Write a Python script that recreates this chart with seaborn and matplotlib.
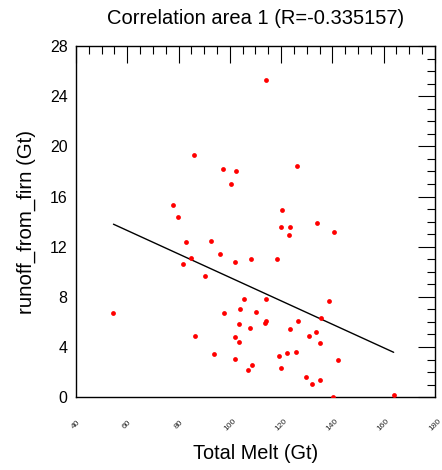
import numpy as np
import pandas as pd
import matplotlib
matplotlib.use("Agg")
import matplotlib.pyplot as plt
from matplotlib.ticker import MultipleLocator
import seaborn as sns

# Total melt (Gt) and runoff from firn (Gt), one pair per year
total_melt = [114.1, 85.9, 97.4, 102.3, 100.3, 77.7, 79.9, 126.1, 120.2, 120.1,
              123.6, 123.2, 133.9, 140.5, 82.9, 92.5, 96.0, 102.0, 108.1, 118.3,
              84.9, 81.9, 90.3, 54.6, 105.5, 114.2, 104.1, 110.3, 97.8, 103.7,
              108.0, 114.2, 113.6, 86.5, 101.9, 103.5, 93.8, 101.9, 108.8, 107.0,
              138.8, 135.7, 126.7, 123.3, 133.7, 130.7, 135.2, 119.1, 122.3, 125.7,
              142.2, 119.8, 129.8, 132.0, 135.0, 140.2, 163.9]
runoff_from_firn = [25.3, 19.35, 18.2, 18.0, 17.0, 15.35, 14.4, 18.4, 14.95, 13.6,
                    13.6, 12.95, 13.9, 13.15, 12.35, 12.45, 11.4, 10.8, 11.0, 11.0,
                    11.1, 10.65, 9.65, 6.75, 7.85, 7.85, 7.05, 6.8, 6.7, 5.85,
                    5.55, 6.1, 5.9, 4.9, 4.8, 4.4, 3.45, 3.05, 2.55, 2.2,
                    7.7, 6.35, 6.05, 5.4, 5.2, 4.85, 4.35, 3.3, 3.55, 3.6,
                    2.95, 2.35, 1.6, 1.05, 1.4, 0.05, 0.2]

title = "Correlation area 1 (R=-0.335157)"
x_label = "Total Melt (Gt)"
y_label = "runoff_from_firn (Gt)"

df = pd.DataFrame({"melt": total_melt, "runoff": runoff_from_firn})

# least-squares line across the data range
slope, intercept = np.polyfit(df["melt"], df["runoff"], 1)
xs = np.array([df["melt"].min(), df["melt"].max()])
fit = pd.DataFrame({"melt": xs, "runoff": slope * xs + intercept})

sns.set_style("white")
plt.rcParams["font.family"] = ["Liberation Sans", "DejaVu Sans"]
plt.rcParams["text.color"] = "black"
plt.rcParams["axes.labelcolor"] = "black"
plt.rcParams["xtick.color"] = "black"
plt.rcParams["ytick.color"] = "black"

fig = plt.figure(figsize=(4.42, 4.70), dpi=100)
ax = fig.add_axes([0.172, 0.155, 0.812, 0.747])

sns.scatterplot(data=df, x="melt", y="runoff", ax=ax, color="red",
                s=12, linewidth=0, zorder=3)
sns.lineplot(data=fit, x="melt", y="runoff", ax=ax, color="black",
             linewidth=1.0, zorder=2)

ax.set_xlim(40, 180)
ax.set_ylim(0, 28)
ax.xaxis.set_major_locator(MultipleLocator(20))
ax.xaxis.set_minor_locator(MultipleLocator(5))
ax.yaxis.set_major_locator(MultipleLocator(4))
ax.yaxis.set_minor_locator(MultipleLocator(1))

ax.tick_params(which="both", direction="in", top=True, right=True,
               color="black", width=0.8)
ax.tick_params(which="major", length=12)
ax.tick_params(which="minor", length=6)
ax.tick_params(axis="y", labelsize=11.5, pad=6, labelcolor="black")
ax.tick_params(axis="x", labelsize=6, pad=20, labelrotation=45)
for lbl in ax.get_xticklabels():
    lbl.set_ha("center")
    lbl.set_va("center")
    lbl.set_color("#222222")

for sp in ax.spines.values():
    sp.set_color("black")
    sp.set_linewidth(1.0)

ax.set_xlabel(x_label, fontsize=14.3, labelpad=8, color="black")
ax.set_ylabel(y_label, fontsize=14.7, labelpad=10, color="black")
ax.set_title(title, fontsize=14.5, pad=16, color="black")

fig.savefig("out.png", dpi=100)
